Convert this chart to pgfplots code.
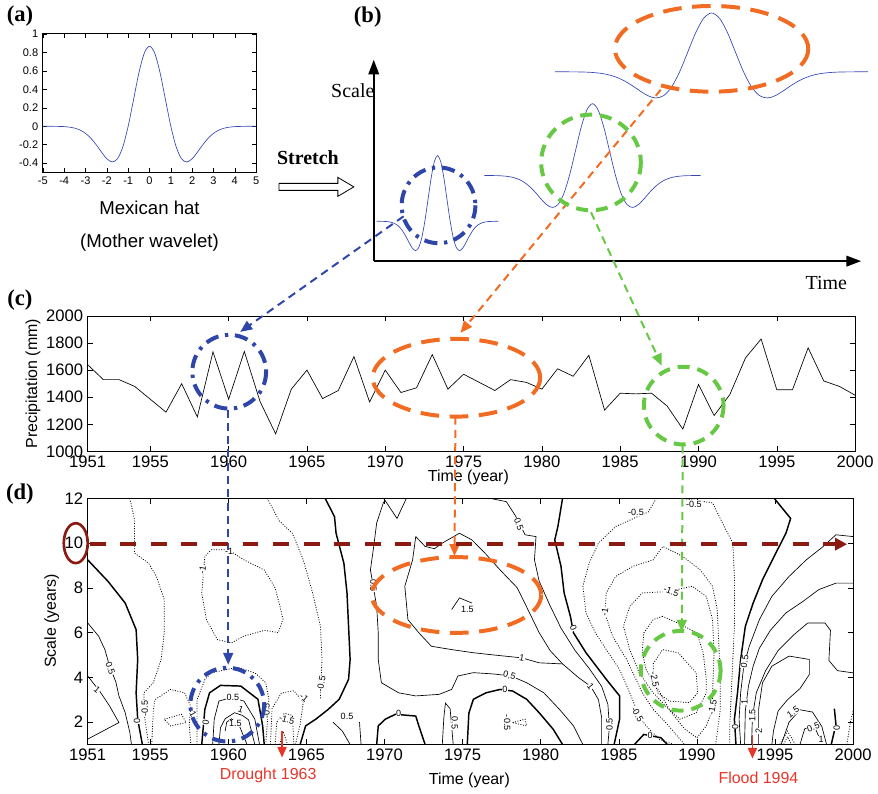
\documentclass[border=0pt]{standalone}
\usepackage{pgfplots}
\pgfplotsset{compat=1.18}
\usepackage{pgfplotstable}
\usepackage{fontspec}
\setmainfont{Liberation Sans}
\newfontfamily\tnr{Liberation Serif}
\usetikzlibrary{arrows.meta}
\definecolor{wblue}{HTML}{3646B4}
\definecolor{ablue}{HTML}{2E46AA}
\definecolor{aorange}{HTML}{F26B22}
\definecolor{agreen}{HTML}{66C845}
\definecolor{dred}{HTML}{8B1A12}
\definecolor{tred}{HTML}{E8352A}

\pgfplotstableread{
t y
-5.00 0.000
-4.75 0.000
-4.50 -0.001
-4.25 -0.002
-4.00 -0.004
-3.75 -0.010
-3.50 -0.021
-3.25 -0.042
-3.00 -0.077
-2.75 -0.130
-2.50 -0.200
-2.25 -0.280
-2.00 -0.352
-1.75 -0.387
-1.50 -0.352
-1.25 -0.223
-1.00 0.000
-0.75 0.286
-0.50 0.574
-0.25 0.788
0.00 0.867
0.25 0.788
0.50 0.574
0.75 0.286
1.00 0.000
1.25 -0.223
1.50 -0.352
1.75 -0.387
2.00 -0.352
2.25 -0.280
2.50 -0.200
2.75 -0.130
3.00 -0.077
3.25 -0.042
3.50 -0.021
3.75 -0.010
4.00 -0.004
4.25 -0.002
4.50 -0.001
4.75 0.000
5.00 0.000
}\hattable

\pgfplotstableread{
year p
1951 1640
1952 1530
1953 1530
1954 1480
1955 1385
1956 1290
1957 1500
1958 1255
1959 1735
1960 1385
1961 1738
1962 1370
1963 1130
1964 1460
1965 1600
1966 1390
1967 1450
1968 1700
1969 1365
1970 1600
1971 1435
1972 1470
1973 1715
1974 1460
1975 1570
1976 1510
1977 1450
1978 1530
1979 1510
1980 1460
1981 1610
1982 1555
1983 1710
1984 1305
1985 1430
1986 1425
1987 1430
1988 1335
1989 1165
1990 1495
1991 1265
1992 1420
1993 1690
1994 1830
1995 1455
1996 1455
1997 1765
1998 1520
1999 1480
2000 1415
}\preciptable

\pgfplotsset{matlab/.style={scale only axis, anchor=north west, tick align=inside,
  axis line style={line width=0.6pt}, major tick length=4pt,
  every tick/.style={black, line width=0.4pt},
  /pgf/number format/assume math mode=true, /pgf/number format/1000 sep={},
  scaled ticks=false},
  wave/.style={hide axis, scale only axis, anchor=north west, ymin=-0.5, ymax=1}}
\tikzset{clab/.style={font=\fontsize{6.8}{7}\selectfont, fill=white, inner sep=0.3pt},
  czero/.style={black, line width=1.1pt},
  cpos/.style={black, line width=0.5pt},
  cneg/.style={black, line width=0.6pt, dash pattern=on 0.7pt off 1.2pt}}

\begin{document}
\begin{tikzpicture}
\begin{scope}[x=0.75pt,y=-0.75pt]
\useasboundingbox (0,0) rectangle (878,796);
\end{scope}

% ---------------- (a)
\begin{axis}[matlab, at={(32.25pt,-25.5pt)}, width=160.5pt, height=104.25pt,
  xmin=-5, xmax=5, ymin=-0.5, ymax=1, xtick={-5,-4,-3,-2,-1,0,1,2,3,4,5},
  ytick={-0.4,-0.2,0,0.2,0.4,0.6,0.8,1}, major tick length=3pt,
  ticklabel style={font=\fontsize{8.3}{9}\selectfont}]
\addplot[wblue, line width=0.5pt, smooth] table[x=t, y=y] {\hattable};
\end{axis}

% ---------------- (b) wavelets
\begin{axis}[wave, at={(283.5pt,-109.5pt)}, width=91.5pt, height=85.5pt, xmin=-4.8, xmax=4.8]
\addplot[wblue, line width=0.5pt, smooth] table[x=t, y=y] {\hattable};
\end{axis}
\begin{axis}[wave, at={(364.5pt,-69.75pt)}, width=162.75pt, height=93.4pt, xmin=-4.7, xmax=4.7]
\addplot[wblue, line width=0.5pt, smooth] table[x=t, y=y] {\hattable};
\end{axis}
\begin{axis}[wave, at={(417.75pt,-3pt)}, width=235.5pt, height=76.5pt, xmin=-4.9, xmax=4.9]
\addplot[wblue, line width=0.5pt, smooth] table[x=t, y=y] {\hattable};
\end{axis}

% ---------------- (c)
\begin{axis}[matlab, at={(66pt,-237.75pt)}, width=577.5pt, height=102pt,
  xmin=1951, xmax=2000, ymin=1000, ymax=2000,
  xtick={1951,1955,1960,1965,1970,1975,1980,1985,1990,1995,2000},
  ytick={1000,1200,1400,1600,1800,2000},
  ticklabel style={font=\fontsize{12.5}{14}\selectfont}]
\addplot[black, line width=0.5pt] table[x=year, y=p] {\preciptable};
\end{axis}

% ---------------- (d)
\begin{axis}[matlab, at={(66pt,-375pt)}, width=576pt, height=185.25pt,
  xmin=1951, xmax=2000, ymin=1, ymax=12,
  xtick={1951,1955,1960,1965,1970,1975,1980,1985,1990,1995,2000},
  ytick={2,4,6,8,10,12},
  ticklabel style={font=\fontsize{12.5}{14}\selectfont}]
% zero contours
\addplot[czero] coordinates {(1951.0,9.25)(1952.3,8.29)(1953.4,7.32)(1954.1,6.13)(1954.2,4.80)(1954.1,3.31)(1954.2,2.13)(1954.5,1.0)};
\addplot[czero] coordinates {(1958.3,1.0)(1958.5,2.57)(1958.8,3.31)(1959.5,3.64)(1960.8,3.61)(1961.9,3.02)(1962.2,1.83)(1962.3,1.0)};
\addplot[czero] coordinates {(1966.2,12.0)(1966.8,11.18)(1966.9,10.44)(1967.4,9.1)(1967.6,7.77)(1967.7,6.28)(1967.8,4.80)(1967.7,3.91)(1967.1,3.02)(1966.4,2.57)(1965.6,2.13)(1964.95,1.83)(1964.6,1.0)};
\addplot[czero] coordinates {(1969.5,1.0)(1969.6,1.83)(1970.05,2.13)(1970.7,2.35)(1972.0,2.27)(1972.2,1.83)(1972.6,1.0)};
\addplot[czero] coordinates {(1975.3,1.0)(1975.4,2.4)(1975.69,3.02)(1976.5,3.31)(1977.4,3.46)(1978.2,3.39)(1979.1,3.02)(1979.9,2.42)(1980.8,1.68)(1981.4,1.0)};
\addplot[czero] coordinates {(1981.4,12.0)(1981.1,10.74)(1980.9,10.14)(1981.3,8.96)(1981.5,7.77)(1981.9,6.73)(1982.1,5.99)(1982.9,5.1)(1984.2,3.91)(1985.05,3.17)(1985.05,2.13)(1984.7,1.0)};
\addplot[czero] coordinates {(1986.0,1.0)(1986.6,1.45)(1987.7,1.3)(1988.1,1.0)};
\addplot[czero] coordinates {(1994.95,12.0)(1996.0,11.1)(1995.7,10.44)(1995.05,9.55)(1994.2,8.36)(1993.6,7.32)(1993.1,6.28)(1992.8,4.8)(1992.6,3.31)(1992.4,2.13)(1992.5,1.0)};
\addplot[czero] coordinates {(1998.6,1.0)(1998.9,1.9)(1998.8,2.6)};
% positive contours
\addplot[cpos] coordinates {(1951.0,6.43)(1951.7,5.84)(1952.1,5.24)(1952.4,4.50)(1952.8,3.8)(1953.0,3.17)(1953.4,2.42)(1953.7,1.53)(1953.8,1.0)};
\addplot[cpos] coordinates {(1951.0,4.06)(1951.8,3.35)(1952.4,2.72)(1953.0,1.98)(1952.0,1.61)(1951.0,1.24)};
\addplot[cpos] coordinates {(1959.0,1.0)(1959.1,2.13)(1959.4,2.94)(1960.2,3.1)(1961.0,2.94)(1961.7,2.13)(1962.0,1.0)};
\addplot[cpos] coordinates {(1959.4,1.0)(1959.5,1.75)(1959.8,2.15)(1960.4,2.42)(1960.9,2.3)(1961.3,2.1)(1961.7,1.0)};
\addplot[cpos] coordinates {(1959.8,1.6)(1959.9,2.0)(1960.2,2.15)(1960.7,1.85)(1961.2,1.0)};
\addplot[cpos] coordinates {(1969.95,12.0)(1970.8,11.1)(1971.4,12.0)};
\addplot[cpos] coordinates {(1969.95,11.85)(1969.5,10.9)(1969.3,9.8)(1969.1,8.8)(1969.5,7.17)(1969.6,5.99)(1969.6,4.80)(1969.8,3.76)(1970.9,3.31)(1972.0,3.17)(1973.5,3.24)(1974.3,3.46)(1974.7,4.06)(1975.69,4.21)(1977.0,4.15)(1978.1,4.06)(1979.1,3.76)(1980.2,3.31)(1981.2,2.57)(1982.1,1.83)(1982.7,1.0)};
\addplot[cpos] coordinates {(1976.75,12.0)(1977.8,11.85)(1978.4,11.2)(1979.0,10.37)(1979.7,10.29)(1979.6,9.25)(1979.9,8.3)(1980.6,7.2)(1981.3,6.2)(1982.2,5.2)(1983.1,4.4)(1983.9,3.6)(1984.3,2.8)(1984.4,1.8)(1984.3,1.0)};
\addplot[cpos] coordinates {(1972.0,10.29)(1972.6,9.85)(1973.2,9.75)(1973.7,10.0)(1974.8,10.44)(1975.6,10.14)(1976.5,9.5)(1977.4,8.8)(1978.5,8.0)(1979.2,7.0)(1979.9,6.0)(1980.6,5.2)(1981.4,4.6)(1982.4,4.0)(1983.2,3.6)(1983.7,3.0)(1983.9,2.2)(1983.9,1.0)};
\addplot[cpos] coordinates {(1972.0,10.29)(1971.8,9.25)(1971.3,8.07)(1971.5,6.58)(1972.2,5.99)(1973.0,5.39)(1974.3,5.24)(1975.69,5.1)(1977.0,5.0)(1978.8,4.87)(1979.9,4.65)(1981.4,4.6)};
\addplot[cpos] coordinates {(1974.3,7.03)(1974.8,7.55)(1975.6,7.32)};
\addplot[cpos] coordinates {(1966.7,2.0)(1967.3,1.6)(1967.8,1.0)};
\addplot[cpos] coordinates {(1968.4,2.0)(1968.5,1.0)};
\addplot[cpos] coordinates {(1973.7,1.0)(1973.8,2.2)(1973.9,2.85)(1974.2,2.6)(1974.4,1.0)};
\addplot[cpos] coordinates {(2000,10.29)(1998.9,10.37)(1998.0,9.8)(1997.0,9.25)(1995.9,8.51)(1994.8,7.62)(1994.0,6.58)(1993.35,5.39)(1993.0,4.50)(1992.8,3.31)(1992.7,2.13)(1992.8,1.0)};
\addplot[cpos] coordinates {(2000,8.21)(1998.9,8.21)(1997.8,7.92)(1996.8,7.4)(1995.7,6.88)(1994.7,6.1)(1994.0,5.3)(1993.6,4.5)(1993.3,3.61)(1993.1,2.5)(1993.05,1.0)};
\addplot[cpos] coordinates {(2000,4.2)(1999.0,4.3)(1998.45,4.75)(1998.55,6.1)(1998.2,6.43)(1997.1,6.43)(1996.2,5.9)(1995.2,5.2)(1994.4,4.3)(1993.8,3.31)(1993.55,2.2)(1993.5,1.0)};
\addplot[cpos] coordinates {(1993.95,1.0)(1993.95,2.57)(1994.2,3.76)(1994.8,4.5)(1995.9,4.95)(1997.2,4.8)(1997.2,4.13)(1996.6,3.5)(1995.8,3.0)(1995.2,2.5)(1994.9,1.6)(1994.8,1.0)};
\addplot[cpos] coordinates {(1995.4,1.0)(1995.9,2.0)(1996.6,2.55)(1997.4,2.45)(1998.0,1.8)(1998.3,1.0)};
\addplot[cpos] coordinates {(1996.6,1.0)(1996.9,1.7)(1997.5,1.85)(1997.9,1.2)};
% negative contours
\addplot[cneg] coordinates {(1953.7,12.0)(1954.0,11.04)(1954.0,9.55)(1954.9,9.1)(1955.4,8.51)(1955.9,7.47)(1955.9,5.99)(1955.7,4.80)(1955.2,3.76)(1954.6,3.31)(1954.6,2.42)(1954.9,1.0)};
\addplot[cneg] coordinates {(1958.9,9.7)(1960.0,9.7)(1961.0,9.25)(1962.3,8.8)(1963.0,8.0)(1963.3,7.2)(1963.5,6.6)(1963.2,6.0)(1962.3,6.1)(1961.0,5.84)(1960.2,5.54)(1959.3,5.69)(1958.6,6.58)(1958.3,7.77)(1958.5,9.4)(1958.9,9.7)};
\addplot[cneg] coordinates {(1962.5,12.0)(1963.25,11.0)(1964.1,10.44)(1964.8,9.25)(1965.4,7.77)(1965.9,6.28)(1966.0,4.80)(1965.9,3.31)(1965.9,3.0)};
\addplot[cneg] coordinates {(1958.0,1.0)(1958.0,3.0)(1958.5,3.9)(1958.9,4.2)(1960.6,4.45)(1961.7,4.2)(1962.4,3.76)(1962.6,3.0)(1962.5,2.0)(1962.4,1.0)};
\addplot[cneg] coordinates {(1955.1,1.0)(1955.2,2.5)(1955.3,3.0)(1956.3,3.46)(1957.2,3.31)(1957.6,2.7)(1957.5,1.9)(1957.6,1.0)};
\addplot[cneg] coordinates {(1955.9,2.13)(1957.0,2.35)(1957.3,1.98)(1956.3,1.83)(1955.9,2.13)};
\addplot[cneg] coordinates {(1962.7,1.0)(1962.8,2.6)(1963.4,3.3)(1964.2,3.4)(1964.8,2.9)(1964.6,1.9)(1964.3,1.0)};
\addplot[cneg] coordinates {(1963.0,1.0)(1963.1,2.0)(1963.6,2.4)(1964.1,2.3)(1964.2,1.0)};
\addplot[cneg] coordinates {(1963.3,1.0)(1963.5,1.6)(1963.8,1.0)};
\addplot[cneg] coordinates {(1978.2,1.98)(1979.0,2.13)(1979.1,1.83)(1978.2,1.98)};
\addplot[cneg] coordinates {(1987.4,12.0)(1986.9,11.4)(1984.8,10.74)(1983.7,10.0)(1983.1,9.1)(1982.7,8.07)(1982.9,6.88)(1983.5,5.99)(1984.2,5.24)(1985.05,4.35)(1985.7,3.31)(1986.3,2.27)(1986.75,1.83)(1987.6,1.23)(1988.5,1.0)};
\addplot[cneg] coordinates {(1989.0,12.0)(1991.0,11.8)(1991.75,10.74)(1992.3,10.0)(1992.4,8.5)(1992.4,6.3)(1992.3,4.8)(1992.2,3.3)(1992.1,1.8)(1992.1,1.0)};
\addplot[cneg] coordinates {(1991.2,1.0)(1991.3,1.53)(1991.5,2.57)(1991.5,3.91)(1991.4,5.54)(1991.3,7.03)(1991.0,8.07)(1990.2,8.81)(1989.1,9.4)(1987.82,9.85)(1987.2,9.25)(1985.9,8.96)(1984.8,8.51)(1984.2,7.77)(1984.1,6.88)(1984.6,5.84)(1985.5,4.80)(1986.1,3.91)(1986.5,3.31)(1987.2,2.57)(1988.0,1.98)(1988.6,1.5)(1989.2,1.0)};
\addplot[cneg] coordinates {(1988.2,7.84)(1989.7,8.07)(1990.6,7.62)(1991.0,6.58)(1991.1,5.10)(1991.0,3.31)(1991.0,2.57)(1990.6,1.83)(1990.0,1.3)(1989.2,1.7)(1988.2,2.57)(1987.2,3.31)(1986.3,4.21)(1985.7,5.24)(1985.3,6.28)(1985.7,7.17)(1986.5,7.77)(1988.2,7.84)};
\addplot[cneg] coordinates {(1987.8,6.73)(1987.2,6.58)(1986.6,5.99)(1986.5,5.1)(1986.75,4.35)(1987.4,3.61)(1988.2,2.6)(1988.9,2.13)(1989.95,2.42)(1990.6,3.3)(1990.6,3.91)(1990.4,5.1)(1990.0,5.99)(1988.7,6.45)(1987.8,6.73)};
\addplot[cneg] coordinates {(1987.2,4.6)(1987.8,5.24)(1988.8,5.1)(1989.95,4.2)(1990.05,3.3)(1989.5,2.87)(1988.25,2.94)(1987.5,3.3)(1987.2,4.0)(1987.2,4.6)};
\addplot[cneg] coordinates {(1995.3,1.0)(1995.8,1.6)(1996.3,1.0)};
\addplot[cneg] coordinates {(1995.55,1.0)(1995.8,1.35)(1996.05,1.0)};
\addplot[cneg] coordinates {(1999.6,1.0)(1999.8,1.9)(2000,2.5)};
% contour labels
\node[clab, rotate=-70] at (axis cs:1952.45,4.4) {0.5};
\node[clab, rotate=-40] at (axis cs:1951.6,3.45) {1};
\node[clab, rotate=90] at (axis cs:1954.15,2.05) {0};
\node[clab, rotate=90] at (axis cs:1954.65,2.6) {-0.5};
\node[clab, rotate=80] at (axis cs:1958.35,8.8) {-1};
\node[clab] at (axis cs:1960.05,9.65) {-1};
\node[clab, rotate=80] at (axis cs:1958.55,2.0) {0};
\node[clab] at (axis cs:1960.3,3.1) {0.5};
\node[clab, rotate=-20] at (axis cs:1960.8,2.55) {1};
\node[clab] at (axis cs:1960.45,1.95) {1.5};
\node[clab, rotate=90] at (axis cs:1962.45,2.5) {-0.5};
\node[clab, rotate=-60] at (axis cs:1957.7,2.4) {-1};
\node[clab, rotate=-15] at (axis cs:1963.75,2.1) {-1.5};
\node[clab, rotate=-40] at (axis cs:1964.85,3.1) {-1};
\node[clab, rotate=80] at (axis cs:1965.95,3.7) {-0.5};
\node[clab] at (axis cs:1967.6,2.27) {0.5};
\node[clab, rotate=-90] at (axis cs:1969.3,8.1) {0.5};
\node[clab] at (axis cs:1970.9,2.4) {0};
\node[clab, rotate=-90] at (axis cs:1974.5,1.95) {0.5};
\node[clab] at (axis cs:1975.3,7.05) {1.5};
\node[clab] at (axis cs:1977.7,3.45) {0};
\node[clab, rotate=-15] at (axis cs:1978.0,4.08) {0.5};
\node[clab, rotate=-10] at (axis cs:1978.8,4.87) {1};
\node[clab, rotate=-90] at (axis cs:1977.85,1.97) {-0.5};
\node[clab, rotate=-70] at (axis cs:1978.6,10.85) {0.5};
\node[clab, rotate=-70] at (axis cs:1982.1,6.2) {0};
\node[clab, rotate=-50] at (axis cs:1983.2,3.6) {1};
\node[clab, rotate=90] at (axis cs:1984.4,1.9) {0.5};
\node[clab, rotate=80] at (axis cs:1984.1,6.9) {-1};
\node[clab] at (axis cs:1986.1,11.35) {-0.5};
\node[clab] at (axis cs:1989.8,11.75) {-0.5};
\node[clab, rotate=-20] at (axis cs:1988.35,7.85) {-1.5};
\node[clab, rotate=-60] at (axis cs:1986.2,2.35) {-0.5};
\node[clab] at (axis cs:1987.0,1.42) {0};
\node[clab, rotate=-80] at (axis cs:1987.3,3.9) {-2.5};
\node[clab, rotate=80] at (axis cs:1991.0,2.65) {-1.5};
\node[clab, rotate=80] at (axis cs:1993.05,4.7) {0.5};
\node[clab, rotate=90] at (axis cs:1992.45,1.8) {0};
\node[clab, rotate=90] at (axis cs:1993.05,2.9) {1};
\node[clab, rotate=90] at (axis cs:1993.55,2.3) {1.5};
\node[clab, rotate=90] at (axis cs:1993.95,1.6) {2};
\node[clab, rotate=35] at (axis cs:1996.15,2.45) {1.5};
\node[clab, rotate=20] at (axis cs:1997.45,1.78) {0.5};
\node[clab] at (axis cs:1997.95,1.22) {1};
\node[clab, rotate=90] at (axis cs:1998.95,1.75) {0};
\end{axis}

\begin{scope}[x=0.75pt,y=-0.75pt]
\node[font=\fontsize{14}{16}\selectfont] at (150,209) {Mexican hat};
\node[font=\fontsize{14}{16}\selectfont] at (150,244) {(Mother wavelet)};
\draw[line width=1.2pt, -{Triangle[length=11pt,width=8pt]}] (375,262) -- (375,60);
\draw[line width=1.2pt, -{Triangle[length=11pt,width=8pt]}] (375,262) -- (864,262);
\node[font=\tnr\fontsize{15}{17}\selectfont] at (354,91) {Scale};
\node[font=\tnr\fontsize{15}{17}\selectfont] at (829,284) {Time};
\node[font=\tnr\bfseries\fontsize{15}{17}\selectfont] at (309,158) {Stretch};
\draw[line width=0.6pt, fill=white] (280,184) -- (339,184) -- (339,178) -- (355,187.5)
  -- (339,197) -- (339,191) -- (280,191) -- cycle;
\node[font=\fontsize{12}{14}\selectfont, rotate=90] at (33,385) {Precipitation (mm)};
\node[font=\fontsize{12}{14}\selectfont] at (470,479) {Time (year)};
\node[font=\fontsize{12}{14}\selectfont, rotate=90] at (52,623) {Scale (years)};
\node[font=\fontsize{12}{14}\selectfont] at (471,783) {Time (year)};

% panel labels
\node[font=\tnr\bfseries\fontsize{17}{19}\selectfont] at (20,16) {(a)};
\node[font=\tnr\bfseries\fontsize{17}{19}\selectfont] at (369,17) {(b)};
\node[font=\tnr\bfseries\fontsize{17}{19}\selectfont] at (20,301) {(c)};
\node[font=\tnr\bfseries\fontsize{17}{19}\selectfont] at (20,496) {(d)};

% ---------------- annotations
\draw[ablue, line width=3pt, dash pattern=on 10pt off 5pt on 2.5pt off 5pt] (440,206) ellipse [x radius=37, y radius=38];
\draw[ablue, line width=1.5pt, dash pattern=on 6pt off 4pt, -{Triangle[length=9pt,width=7.5pt]}] (405,217) -- (241,333);
\draw[ablue, line width=3pt, dash pattern=on 10pt off 5pt on 2.5pt off 5pt] (230,373) ellipse [x radius=37, y radius=37];
\draw[ablue, line width=1.5pt, dash pattern=on 6pt off 4pt, -{Triangle[length=9pt,width=7.5pt]}] (229,411) -- (229,667);
\draw[ablue, line width=3pt, dash pattern=on 10pt off 5pt on 2.5pt off 5pt] (228,707) ellipse [x radius=37, y radius=37];
\draw[aorange, line width=3pt, dash pattern=on 14pt off 8pt] (714,49) ellipse [x radius=97, y radius=43];
\draw[aorange, line width=1.5pt, dash pattern=on 6pt off 4pt, -{Triangle[length=9pt,width=7.5pt]}] (663,90) -- (462,334);
\draw[aorange, line width=3pt, dash pattern=on 14pt off 8pt] (458,379) ellipse [x radius=84, y radius=39];
\draw[aorange, line width=1.5pt, dash pattern=on 6pt off 4pt, -{Triangle[length=9pt,width=7.5pt]}] (457,418) -- (456,558);
\draw[aorange, line width=3pt, dash pattern=on 14pt off 8pt] (458,597) ellipse [x radius=85, y radius=38];
\draw[agreen, line width=3pt, dash pattern=on 9pt off 6pt] (593,163) ellipse [x radius=50, y radius=48];
\draw[agreen, line width=1.5pt, dash pattern=on 6pt off 4pt, -{Triangle[length=9pt,width=7.5pt]}] (593,213) -- (664,367);
\draw[agreen, line width=3pt, dash pattern=on 9pt off 6pt] (686,407) ellipse [x radius=40, y radius=39];
\draw[agreen, line width=1.5pt, dash pattern=on 6pt off 4pt, -{Triangle[length=9pt,width=7.5pt]}] (685,447) -- (684,634);
\draw[agreen, line width=3pt, dash pattern=on 9pt off 6pt] (683,673) ellipse [x radius=40, y radius=40];
\draw[dred, line width=2pt] (76,545) ellipse [x radius=12, y radius=20];
\draw[dred, line width=3.5pt, dash pattern=on 12pt off 11pt, -{Triangle[length=9pt,width=9pt]}] (90,546) -- (850,546);
\draw[tred, line width=1pt, -{Triangle[length=8pt,width=7pt]}] (283,733) -- (283,760);
\node[tred, font=\fontsize{12}{14}\selectfont] at (269,778) {Drought 1963};
\draw[tred, line width=1pt, -{Triangle[length=8pt,width=7pt]}] (755,737) -- (755,761);
\node[tred, font=\fontsize{12}{14}\selectfont] at (761,780) {Flood 1994};
\end{scope}
\end{tikzpicture}
\end{document}
